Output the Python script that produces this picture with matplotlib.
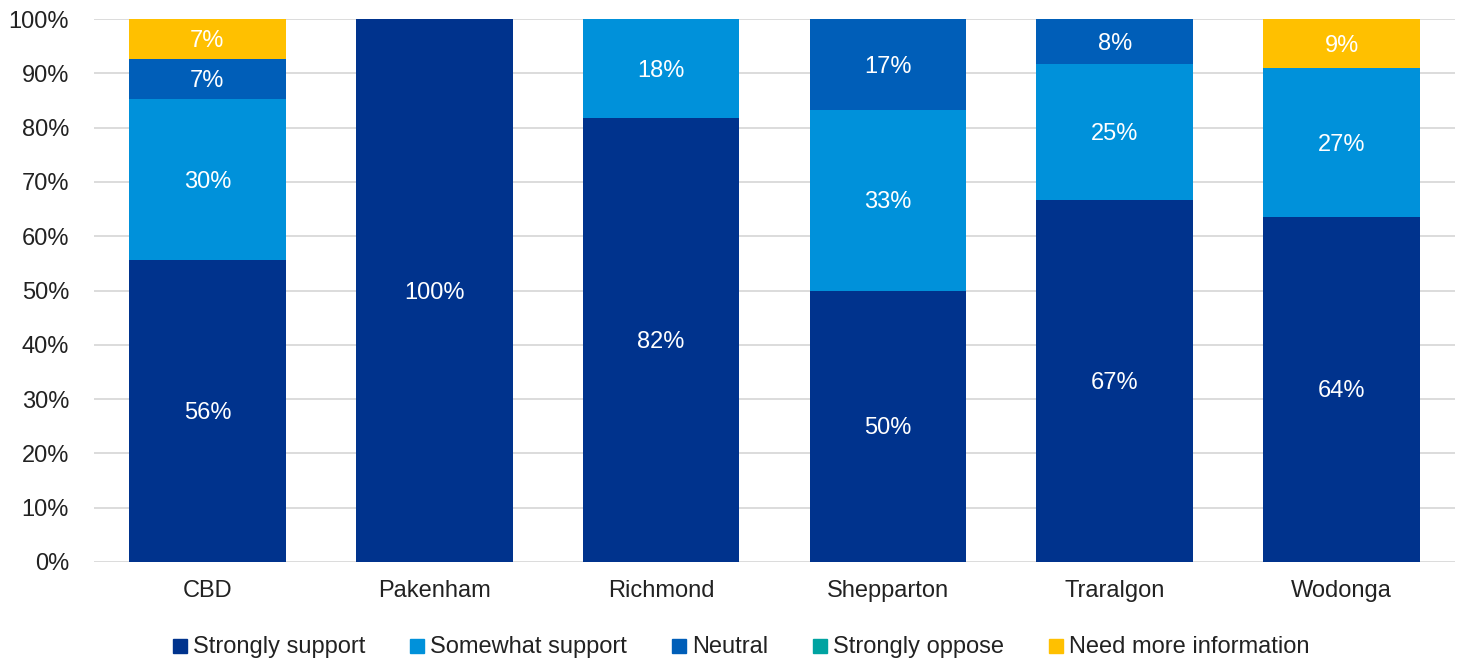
import matplotlib
matplotlib.use("Agg")
import matplotlib.pyplot as plt
from matplotlib.patches import Rectangle
import numpy as np

plt.rcParams['font.family'] = ['Liberation Sans', 'DejaVu Sans']

categories = ["CBD", "Pakenham", "Richmond", "Shepparton", "Traralgon", "Wodonga"]
series_names = ["Strongly support", "Somewhat support", "Neutral", "Strongly oppose", "Need more information"]
strongly_support = [55.6, 100.0, 81.8, 50.0, 66.7, 63.6]
somewhat_support = [29.6, 0.0, 18.2, 33.3, 25.0, 27.3]
neutral = [7.4, 0.0, 0.0, 16.7, 8.3, 0.0]
strongly_oppose = [0.0, 0.0, 0.0, 0.0, 0.0, 0.0]
need_more_info = [7.4, 0.0, 0.0, 0.0, 0.0, 9.1]
colors = ["#00338D", "#0091DA", "#005EB8", "#00A3A1", "#FFC000"]

series = [strongly_support, somewhat_support, neutral, strongly_oppose, need_more_info]

W, H = 1461, 660
FS = 17
fig = plt.figure(figsize=(W/100, H/100), dpi=100)
ax = fig.add_axes([94/W, 1-562/H, (1455-94)/W, (562-19)/H])

x = np.arange(len(categories))
bottom = np.zeros(len(categories))
for name, vals, col in zip(series_names, series, colors):
    vals = np.array(vals)
    ax.bar(x, vals, 0.69, bottom=bottom, color=col, label=name, zorder=3)
    for xi, v, bt in zip(x, vals, bottom):
        if v > 0:
            ax.text(xi, bt + v/2 - 0.4, f"{v:.0f}%", ha='center', va='center',
                    color='white', fontsize=FS, zorder=4)
    bottom += vals

ax.set_xlim(-0.5, len(categories) - 0.5)
ax.set_ylim(0, 100)
ax.set_yticks(np.arange(0, 101, 10))
ax.set_yticklabels([f"{t}%" for t in range(0, 101, 10)])
ax.set_xticks(x)
ax.set_xticklabels(categories)
ax.tick_params(axis='both', length=0, labelsize=FS, colors='#222222')
ax.tick_params(axis='y', pad=18)
ax.tick_params(axis='x', pad=13)
ax.yaxis.grid(True, color='#d9d9d9', linewidth=1.3, zorder=0)
ax.set_axisbelow(True)
for s in ax.spines.values():
    s.set_visible(False)

# Manual legend (consistent baseline)
renderer = fig.canvas.get_renderer()
sq = 14
y_center = 646
xpos = 173
for name, col in zip(series_names, colors):
    fig.add_artist(Rectangle((xpos/W, 1-(y_center+sq/2)/H), sq/W, sq/H,
                             transform=fig.transFigure, color=col))
    t = fig.text((xpos+sq+6)/W, 1-(y_center+7)/H, name, fontsize=FS,
                 color='#222222', ha='left', va='baseline')
    bb = t.get_window_extent(renderer=renderer)
    xpos = xpos + sq + 6 + bb.width + 45

fig.savefig("out.png", dpi=100)
